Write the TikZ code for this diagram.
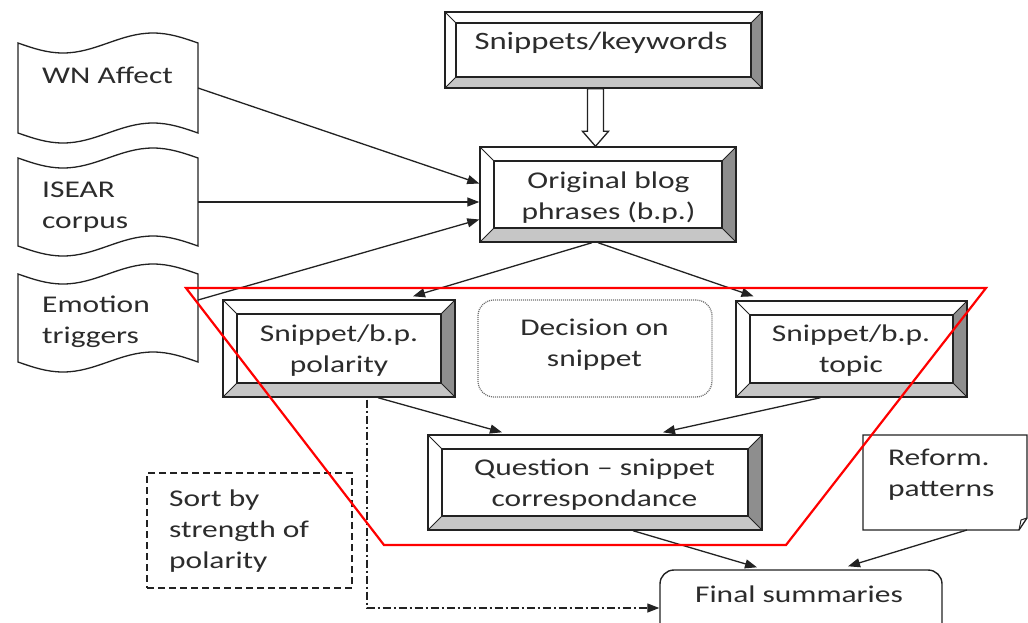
\documentclass[tikz,border=0pt]{standalone}
\usepackage{fontspec}
\setmainfont{Carlito}[FakeStretch=1.31]
\usetikzlibrary{calc,arrows.meta}

\definecolor{ink}{HTML}{222222}
\definecolor{txt}{HTML}{2C2C2C}
\definecolor{bevdark}{HTML}{8E8E8E}
\definecolor{bevlight}{HTML}{C6C6C6}
\definecolor{dotgray}{HTML}{707070}

% shading of a bevelled frame, drawn inside the node's own path
\newcommand\bevelfill[1]{%
  \coordinate (bNE) at (path picture bounding box.north east);
  \coordinate (bSE) at (path picture bounding box.south east);
  \coordinate (bSW) at (path picture bounding box.south west);
  \coordinate (bNW) at (path picture bounding box.north west);
  \fill[bevdark] (bNE) -- (bSE) -- ($(bSE)+(-#1pt,#1pt)$) -- ($(bNE)+(-#1pt,-#1pt)$) -- cycle;
  \fill[bevlight] (bSW) -- (bSE) -- ($(bSE)+(-#1pt,#1pt)$) -- ($(bSW)+(#1pt,#1pt)$) -- cycle;
  \draw[ink, line width=1.4pt] ($(bSW)+(#1pt,#1pt)$) rectangle ($(bNE)+(-#1pt,-#1pt)$);
  \draw[ink, line width=1pt] (bNW) -- ++(#1pt,-#1pt) (bSW) -- ++(#1pt,#1pt)
        (bNE) -- ++(-#1pt,-#1pt) (bSE) -- ++(-#1pt,#1pt);
}

% wavy "document" outline: left x, top y, right x, bottom y
\newcommand\docpath[4]{%
  \draw[ink, line width=1.3pt, fill=white]
    (#1,#2) sin ({#1+(#3-#1)/4},{#2+10}) cos ({(#1+#3)/2},#2)
            sin ({#1+3*(#3-#1)/4},{#2-10}) cos (#3,#2)
    -- (#3,#4) sin ({#1+3*(#3-#1)/4},{#4-10}) cos ({(#1+#3)/2},#4)
            sin ({#1+(#3-#1)/4},{#4+10}) cos (#1,#4) -- cycle;
}

\tikzset{
  lbl/.style={font=\fontsize{24}{31}\selectfont, text=txt, inner sep=0pt},
  bevelbox/.style={draw=ink, line width=1.4pt, fill=white, inner sep=0pt,
    path picture={\bevelfill{#1}}},
  bevelbox/.default=14,
  area/.style={inner sep=0pt, outer sep=0pt},
  link/.style={draw=ink, line width=1.3pt, -{Triangle[length=12pt,width=9pt]}},
  dashbox/.style={draw=ink, line width=1.4pt, dash pattern=on 7pt off 4pt},
  dotbox/.style={draw=dotgray, line width=1.3pt, dash pattern=on 1pt off 1pt,
    rounded corners=16pt},
  roundbox/.style={draw=ink, line width=1.4pt, rounded corners=14pt, fill=white},
  dashdot/.style={draw=ink, line width=1.2pt,
    dash pattern=on 8pt off 3pt on 2pt off 3pt,
    -{Triangle[length=12pt,width=9pt]}},
  highlight/.style={draw=red, line width=2.2pt, line join=miter},
}

\begin{document}
\begin{tikzpicture}[x=1pt,y=-1pt]
\useasboundingbox (0,0) rectangle (1028,622);
\clip (0,0) rectangle (1028,622);
\fill[white] (0,0) rectangle (1028,622);

% emotion lexicons on the left
\docpath{18}{43}{198}{133}
\docpath{18}{158}{198}{246}
\docpath{18}{274}{198}{362}
\node[area, minimum width=180, minimum height=90] (wn) at (108,88) {};
\node[area, minimum width=180, minimum height=88] (isear) at (108,202) {};
\node[area, minimum width=180, minimum height=88] (emo) at (108,318) {};
\node[lbl, anchor=west] (wntxt) at (42,75) {WN Affect};
\node[lbl, anchor=west, align=left] (iseartxt) at (42,207) {ISEAR\\corpus};
\node[lbl, anchor=west, align=left] (emotxt) at (42,322) {Emotion\\triggers};

% main processing boxes
\node[bevelbox=11, minimum width=317, minimum height=76] (snip) at (603.5,50) {};
\node[lbl, font=\fontsize{25}{31}\selectfont] (sniptxt) at (601,43) {Snippets/keywords};

\node[bevelbox, minimum width=256, minimum height=95] (blog) at (608,194.5) {};
\node[lbl, align=center] (blogtxt) at (608.5,198) {Original blog\\phrases (b.p.)};

\node[bevelbox, minimum width=232, minimum height=97] (pol) at (339,348.5) {};
\node[lbl, align=center] (poltxt) at (339,351) {Snippet/b.p.\\polarity};

\node[bevelbox, minimum width=231, minimum height=96] (topic) at (851.5,349) {};
\node[lbl, align=center] (topictxt) at (851,351) {Snippet/b.p.\\topic};

\node[dotbox, minimum width=234, minimum height=97] (dec) at (595,348.5) {};
\node[lbl, align=center] (dectxt) at (594.5,345) {Decision on\\snippet};

\node[bevelbox, minimum width=334, minimum height=95] (q) at (595,482.5) {};
\node[lbl, align=center] (qtxt) at (594.5,485) {Question – snippet\\correspondance};

\node[dashbox, minimum width=205, minimum height=115] (sort) at (249.5,530.5) {};
\node[lbl, anchor=west, align=left] (sorttxt) at (169,531) {Sort by\\strength of\\polarity};

% reformulation patterns note with folded corner
\draw[ink, line width=1.3pt, fill=white]
  (863,435) -- (1027,435) -- (1027,518) -- (1019,530) -- (863,530) -- cycle;
\draw[ink, line width=1pt] (1019,530) -- (1021,520) -- (1027,518);
\node[area, minimum width=164, minimum height=95] (reform) at (945,482.5) {};
\node[lbl, anchor=west, align=left] (reformtxt) at (888,475) {Reform.\\patterns};

\node[roundbox, minimum width=282, minimum height=76] (final) at (801,608) {};
\node[lbl] (finaltxt) at (799,594) {Final summaries};

% hollow block arrow from keywords to blog phrases
\coordinate (ka) at ([xshift=-8pt]snip.south);
\coordinate (kb) at (ka |- blog.north);
\draw[ink, line width=1.3pt, fill=white]
  ($(ka)+(-8,0)$) -- ($(kb)+(-8,-15)$) -- ($(kb)+(-13,-15)$) -- (kb)
  -- ($(kb)+(13,-15)$) -- ($(kb)+(8,-15)$) -- ($(ka)+(8,0)$) -- cycle;

% connectors
\draw[link] (wn.east) -- ([yshift=11pt]blog.west);
\draw[link] (isear.east) -- (isear.east -| blog.west);
\draw[link] ([yshift=18pt]emo.east) -- ([yshift=-25pt]blog.west);
\draw[link] ([xshift=-16pt]blog.south) -- ([xshift=74pt,yshift=3pt]pol.north);
\draw[link] ([xshift=-10pt]blog.south) -- ([xshift=-98pt,yshift=4pt]topic.north);
\draw[link] ([xshift=39pt]pol.south) -- ([xshift=-93pt,yshift=2pt]q.north);
\draw[link] ([xshift=-31pt]topic.south) -- ([xshift=68pt,yshift=2pt]q.north);
\draw[link] ([xshift=38pt]q.south) -- ([xshift=-44pt,yshift=2pt]final.north);
\draw[link] ([xshift=22pt]reform.south) -- ([xshift=47pt,yshift=3pt]final.north);
\coordinate (sortturn) at ([xshift=28pt]pol.south |- final.west);
\draw[dashdot] ([xshift=28pt,yshift=-2pt]pol.south) -- (sortturn) -- (final.west);

% highlighted region
\draw[highlight] (186,288) -- (986,288) -- (786,545) -- (384,545) -- cycle;
\end{tikzpicture}
\end{document}
